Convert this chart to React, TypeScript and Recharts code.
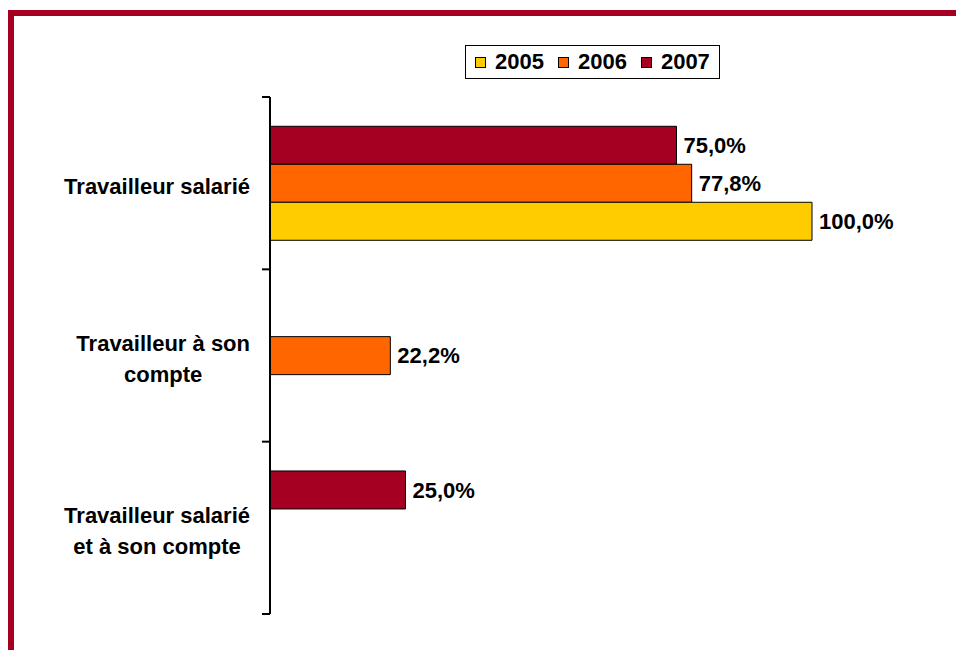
import { BarChart, Bar, XAxis, YAxis, LabelList } from "recharts";

const categories = ["Travailleur salarié", "Travailleur à son\ncompte", "Travailleur salarié\net à son compte"];
const years = ["2005", "2006", "2007"];
const values2005 = [100.0, null, null];
const values2006 = [77.8, 22.2, null];
const values2007 = [75.0, null, 25.0];

const COLORS: Record<string, string> = { "2005": "#FFCC00", "2006": "#FF6600", "2007": "#A50021" };
const FONT = "'Liberation Sans', Arial, sans-serif";
const FS = 22;
const W = 956, H = 650;
const M = { top: 97, right: 144, bottom: 36, left: 0 };
const HALF_BAND = (H - M.top - M.bottom) / categories.length / 2;

const data = categories.map((c, i) => ({
  name: c,
  "2005": values2005[i],
  "2006": values2006[i],
  "2007": values2007[i],
}));

let ctx: CanvasRenderingContext2D | null = null;
const textWidth = (s: string) => {
  if (!ctx) ctx = document.createElement("canvas").getContext("2d");
  if (!ctx) return s.length * FS * 0.55;
  ctx.font = `bold ${FS}px ${FONT}`;
  return ctx.measureText(s).width;
};

const fmt = (v: any) => (v == null ? "" : `${Number(v).toFixed(1).replace(".", ",")}%`);

function CatTick(props: any) {
  const { y, payload, index, visibleTicksCount } = props;
  const lines = String(payload.value).split("\n");
  const blockW = Math.max(...lines.map(textWidth));
  const cx = 250 - blockW / 2;
  const lh = 31;
  const y0 = y - ((lines.length - 1) * lh) / 2 + 3;
  return (
    <g>
      <line x1={262} x2={270} y1={y - HALF_BAND} y2={y - HALF_BAND} stroke="#000" strokeWidth={2} />
      {index === visibleTicksCount - 1 && (
        <line x1={262} x2={270} y1={y + HALF_BAND} y2={y + HALF_BAND} stroke="#000" strokeWidth={2} />
      )}
      {lines.map((l, i) => (
        <text key={i} x={cx} y={y0 + i * lh} textAnchor="middle" dominantBaseline="central"
          fontFamily={FONT} fontWeight="bold" fontSize={FS} fill="#000">{l}</text>
      ))}
    </g>
  );
}

export default function App() {
  return (
    <div style={{ position: "absolute", left: 0, top: 0, width: W, height: H, background: "#fff", fontFamily: FONT }}>
      <div style={{ position: "absolute", left: 8, top: 10, width: W - 8, height: 6, background: "#A50021" }} />
      <div style={{ position: "absolute", left: 8, top: 10, width: 6, height: H - 10, background: "#A50021" }} />
      <BarChart width={W} height={H} data={data} layout="vertical" margin={M}
        barCategoryGap="17%" barGap={0}>
        <XAxis type="number" domain={[0, 100]} hide />
        <YAxis type="category" dataKey="name" width={270} axisLine={{ stroke: "#000", strokeWidth: 2 }}
          tickLine={false} tick={<CatTick />} interval={0} />
        {[...years].reverse().map(yr => (
          <Bar key={yr} dataKey={yr} fill={COLORS[yr]} stroke="#000" strokeWidth={1} isAnimationActive={false}>
            <LabelList dataKey={yr} position="right" offset={7} formatter={fmt}
              style={{ fontFamily: FONT, fontWeight: "bold", fontSize: FS, fill: "#000" }} />
          </Bar>
        ))}
      </BarChart>
      <div style={{ position: "absolute", left: 465, top: 45, width: 255, height: 34, border: "1px solid #000",
        display: "flex", alignItems: "center", paddingLeft: 9, boxSizing: "border-box" }}>
        {years.map(yr => (
          <div key={yr} style={{ display: "flex", alignItems: "center", marginRight: 14 }}>
            <div style={{ width: 9, height: 9, background: COLORS[yr], border: "1px solid #000", marginRight: 9 }} />
            <span style={{ fontWeight: "bold", fontSize: FS, color: "#000" }}>{yr}</span>
          </div>
        ))}
      </div>
    </div>
  );
}
